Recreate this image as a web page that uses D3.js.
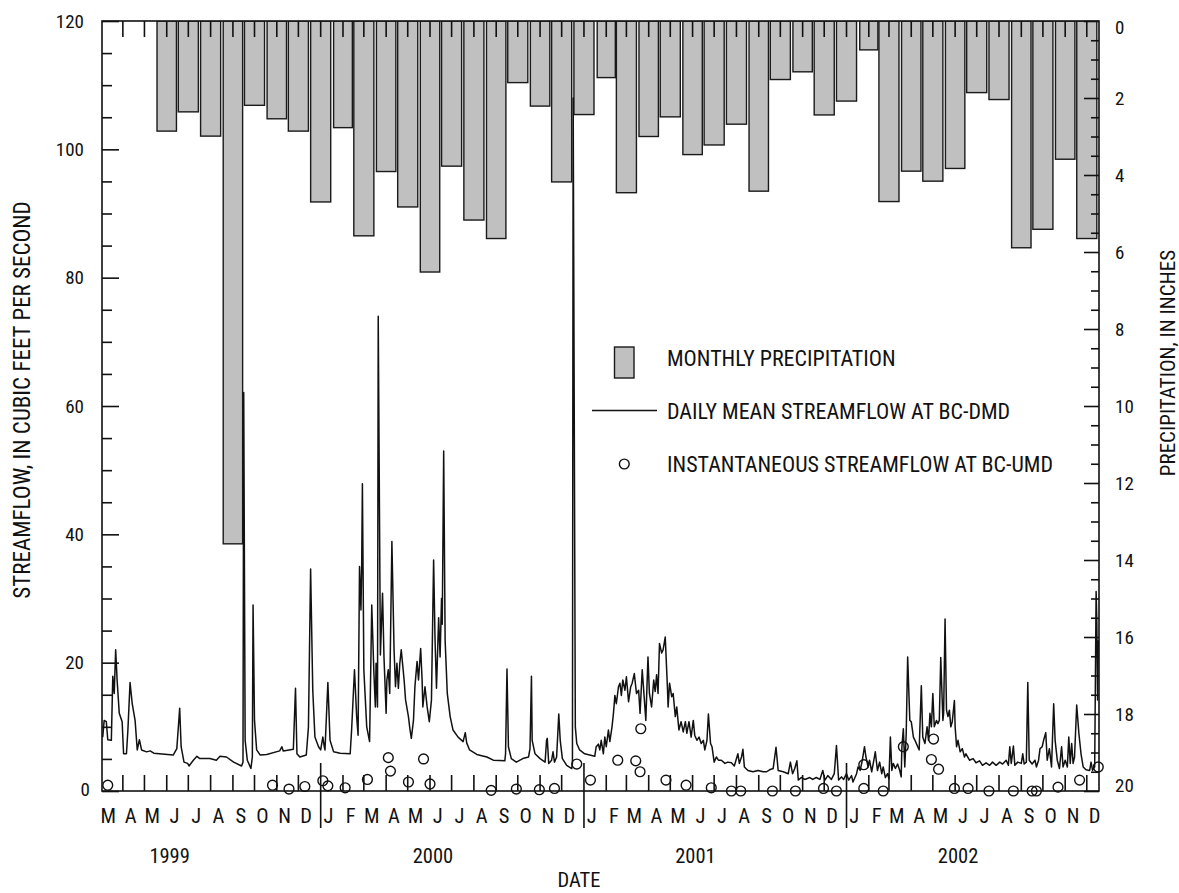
<!DOCTYPE html>
<html>
<head>
<meta charset="utf-8">
<script src="https://cdn.jsdelivr.net/npm/d3@7"></script>
<style>
  html, body { margin: 0; padding: 0; background: #fff; }
  svg text { font-family: "Liberation Sans Narrow", "Arial Narrow", "Roboto Condensed", sans-serif; fill: #111; }
</style>
</head>
<body>
<svg id="chart" width="1179" height="893"></svg>
<script>
// Monthly precipitation, inches (bars are centred on the first day of each month)
const precipMonths = [
  "1999-06","1999-07","1999-08","1999-09","1999-10","1999-11","1999-12",
  "2000-01","2000-02","2000-03","2000-04","2000-05","2000-06","2000-07","2000-08","2000-09","2000-10","2000-11","2000-12",
  "2001-01","2001-02","2001-03","2001-04","2001-05","2001-06","2001-07","2001-08","2001-09","2001-10","2001-11","2001-12",
  "2002-01","2002-02","2002-03","2002-04","2002-05","2002-06","2002-07","2002-08","2002-09","2002-10","2002-11","2002-12"
];
const precipInches = [
  2.86, 2.36, 2.99, 13.58, 2.19, 2.54, 2.86,
  4.70, 2.77, 5.58, 3.91, 4.83, 6.52, 3.77, 5.17, 5.65, 1.60, 2.21, 4.18,
  2.43, 1.47, 4.46, 3.00, 2.49, 3.47, 3.22, 2.68, 4.42, 1.52, 1.32, 2.44,
  2.08, 0.75, 4.69, 3.90, 4.16, 3.83, 1.86, 2.04, 5.89, 5.41, 3.59, 5.65
];

// Daily mean streamflow at BC-DMD (day number counted from 1 March 1999, cubic feet per second)
const flowDay = [
  3,5,8,10,15,17,19,21,23,26,30,32,36,38,41,44,48,51,54,57,64,69,74,101,106,110,112,116,121,123,
  129,134,138,152,161,166,175,185,196,198,199,201,204,209,211,212,214,217,222,231,249,252,254,268,
  271,273,277,286,289,292,295,298,303,306,309,311,312,316,319,324,333,347,349,353,356,358,360,362,
  363,364,366,370,374,377,380,382,383,385,386,389,392,394,397,398,400,402,405,408,410,412,414,416,
  418,422,424,428,430,432,435,437,440,442,445,447,448,451,454,457,460,
  463,465,467,470,472,474,475,477,479,482,486,490,497,504,507,509,513,523,537,546,562,563,565,567,
  571,578,587,595,597,599,600,604,611,618,620,621,623,627,629,631,634,637,639,642,648,655,656,657,
  660,662,666,673,680,687,689,692,694,696,699,701,703,706,708,711,713,715,717,720,722,724,726,729,
  731,734,737,739,742,745,748,750,753,756,758,761,763,766,769,771,773,775,777,780,782,785,788,789,
  791,794,796,799,801,804,807,810,813,815,818,821,824,826,829,832,835,838,840,843,845,848,850,853,
  856,859,863,868,872,877,881,886,888,891,893,895,900,907,914,921,
  926,930,935,939,942,949,956,959,962,965,968,970,974,979,986,990,995,1000,1004,1007,1011,1016,1020,
  1023,1026,1030,1033,1037,1040,1044,1046,1051,1053,1056,1059,1062,1064,1067,1069,1072,1075,1077,
  1080,1083,1086,1088,1091,1094,1096,1098,1100,1102,1105,1108,1111,1113,1114,1116,1118,1120,1122,
  1125,1127,1130,1133,1136,1138,1141,1143,1146,1149,1151,1153,1155,1157,1159,1162,1164,1166,1168,
  1171,1172,1174,1176,1178,1180,1182,1184,1187,1188,1190,1192,1195,1198,1201,1203,1208,1213,1217,
  1222,1226,1231,1236,1240,1245,1250,1254,1259,1262,1264,1266,1269,1271,1275,1280,1282,1284,1287,
  1289,1291,1295,1299,1301,1304,1306,1309,1311,1314,1316,1319,1322,1325,1327,1330,1333,1336,1338,
  1341,1344,1346,1348,1350,1352,1354,1357,1360,1363,1366,1370,1375,1377,1379,1382,1384,1385,1386,1387
];
const flowCfs = [
  8.4,11.0,10.8,8.0,7.9,17.9,15.2,22.0,17.3,12.1,10.8,5.8,5.8,9.5,16.9,13.6,11.0,6.4,8.0,6.4,6.1,6.25,5.9,5.6,6.6,12.9,6.9,4.5,4.3,3.9,
  4.8,5.4,5.05,5.05,4.8,5.4,5.3,4.5,3.9,4.5,62.1,7.9,4.8,3.5,5.3,29.0,11.0,6.4,5.6,5.7,6.25,6.9,6.25,6.5,
  16.0,5.8,5.3,5.6,10.0,34.6,15.7,8.4,6.9,6.4,8.4,6.9,6.4,16.9,7.9,6.1,5.9,5.8,9.5,18.9,11.6,8.7,35.0,28.2,
  35.0,47.9,18.9,10.0,7.7,29.0,18.3,13.1,19.9,13.1,74.0,21.2,30.8,20.9,12.1,17.3,18.9,15.2,38.9,22.0,16.25,19.9,16.0,19.9,
  22.0,17.3,14.2,11.6,9.7,8.2,11.0,16.25,20.2,17.3,22.2,17.3,13.1,16.25,13.1,10.8,14.2,
  36.0,23.5,16.0,27.0,20.9,30.0,26.0,53.0,23.5,15.2,11.6,9.5,8.4,7.7,9.1,7.5,6.4,5.7,5.3,4.8,4.7,5.8,19.0,6.9,
  5.05,4.5,5.05,5.3,6.6,17.9,7.9,5.8,5.05,4.5,7.9,8.2,4.3,4.8,6.1,4.5,5.3,12.0,7.9,5.05,4.0,3.5,4.3,108.0,
  10.0,7.4,6.4,5.8,5.6,5.4,6.9,7.3,6.4,7.9,5.8,8.4,6.9,9.5,7.7,10.0,12.1,14.9,13.6,16.25,16.8,14.9,17.3,15.7,
  17.8,13.9,16.25,16.8,18.3,15.2,15.7,12.1,18.9,14.2,11.0,20.9,15.2,13.1,17.3,15.5,18.1,15.2,23.0,21.5,22.0,24.0,16.25,13.1,
  16.8,14.7,15.2,11.6,13.1,9.5,10.8,9.2,10.8,9.0,10.8,8.4,11.0,8.7,7.9,8.4,7.4,7.9,6.4,7.9,12.0,7.4,6.9,4.5,
  5.3,4.8,4.8,4.3,4.5,4.4,3.9,5.8,4.3,5.3,6.5,3.75,3.2,3.0,3.2,3.0,
  3.0,3.3,3.5,6.8,3.2,3.0,2.7,4.5,2.7,3.5,4.7,1.7,2.1,1.8,2.1,1.8,2.1,1.8,3.2,1.7,2.4,1.8,2.7,
  7.1,1.7,2.2,1.8,2.7,1.7,2.4,1.4,2.7,3.75,3.2,4.8,6.9,5.3,3.75,4.8,3.0,4.8,6.1,
  3.2,4.5,2.7,3.75,2.1,2.7,1.9,8.4,3.2,4.3,3.5,4.2,3.2,2.2,6.9,9.7,3.75,9.0,20.9,
  11.0,10.8,8.4,7.7,6.9,6.4,16.4,8.4,7.4,10.0,7.9,12.1,10.0,15.2,10.0,11.0,10.5,11.0,20.8,
  11.0,12.1,26.8,12.6,11.6,12.6,10.0,10.8,14.1,10.0,6.9,7.9,6.1,6.6,5.3,5.8,4.8,5.05,4.4,
  4.7,4.0,4.4,4.0,4.5,4.0,4.5,4.2,4.8,4.0,6.9,4.3,7.0,4.0,4.5,4.3,5.8,4.2,4.5,
  16.9,4.8,4.2,4.8,3.75,4.8,6.6,6.9,7.9,9.1,4.8,6.6,3.75,13.6,7.9,4.8,3.5,6.9,3.75,
  4.8,3.75,8.4,4.3,7.4,4.3,5.3,13.4,9.0,5.8,3.75,3.3,3.2,4.5,3.2,3.75,31.1,26.1,14.2,23.5
];

// Instantaneous streamflow measurements at BC-UMD
const gaugingDay = [
  10,239,262,284,309,316,340,371,400,403,428,449,458,543,578,610,631,662,681,719,744,750,751,786,
  814,849,877,890,934,966,1005,1023,1061,1061,1088,1116,1155,1158,1165,1187,1206,1235,1269,1295,1301,1331,1361,1387
];
const gaugingCfs = [
  0.9,0.9,0.3,0.7,1.6,0.8,0.5,1.8,5.2,3.1,1.4,5.0,1.1,0.1,0.3,0.2,0.4,4.2,1.7,4.8,4.7,3.0,9.7,1.7,
  0.9,0.5,0.0,0.0,0.0,0.0,0.4,0.0,0.4,4.1,0.0,6.9,4.9,8.1,3.4,0.4,0.4,0.0,0.0,0.0,0.0,0.6,1.7,3.75
];

// Axis labels
const monthLetters = ["J","F","M","A","M","J","J","A","S","O","N","D"];
const yearLabels = [1999, 2000, 2001, 2002];
const flowTicks = [0, 20, 40, 60, 80, 100, 120];
const precipTicks = [0, 2, 4, 6, 8, 10, 12, 14, 16, 18, 20];
const legendLabels = [
  "MONTHLY PRECIPITATION",
  "DAILY MEAN STREAMFLOW AT BC-DMD",
  "INSTANTANEOUS STREAMFLOW AT BC-UMD"
];

const recordStart = new Date(Date.UTC(1999, 2, 1));
const dayDate = n => d3.utcDay.offset(recordStart, n);

const L = 102, R = 1099, T = 21, B = 791;
const svg = d3.select("#chart");
const ink = "#111";

const x = d3.scaleUtc()
  .domain([new Date(Date.UTC(1999, 2, 3)), new Date(Date.UTC(2002, 11, 18))])
  .range([L, R]);
const yFlow = d3.scaleLinear().domain([0, 120]).range([B, T]);
const yPrecip = d3.scaleLinear().domain([0, 20]).range([T, B]);

svg.append("clipPath").attr("id", "plot-clip")
  .append("rect").attr("x", L).attr("y", T).attr("width", R - L).attr("height", B - T);

// Precipitation bars hanging from the top edge
const bars = precipMonths.map((m, i) => {
  const [yy, mm] = m.split("-").map(Number);
  const start = new Date(Date.UTC(yy, mm - 1, 1));
  return { start, next: d3.utcMonth.offset(start, 1), value: precipInches[i] };
});
svg.append("g").attr("clip-path", "url(#plot-clip)")
  .selectAll("rect").data(bars).join("rect")
  .attr("x", d => x(d.start) - 0.45 * (x(d.next) - x(d.start)))
  .attr("width", d => 0.9 * (x(d.next) - x(d.start)))
  .attr("y", yPrecip(0))
  .attr("height", d => yPrecip(d.value) - yPrecip(0))
  .attr("fill", "#c0c0c0")
  .attr("stroke", "#1a1a1a")
  .attr("stroke-width", 1.4);

// Daily mean streamflow
const flow = flowDay.map((d, i) => ({ date: dayDate(d), v: flowCfs[i] }));
svg.append("path")
  .attr("clip-path", "url(#plot-clip)")
  .datum(flow)
  .attr("fill", "none")
  .attr("stroke", ink)
  .attr("stroke-width", 1.5)
  .attr("stroke-linejoin", "round")
  .attr("d", d3.line().x(d => x(d.date)).y(d => yFlow(d.v)));

// Frame
svg.append("rect").attr("x", L).attr("y", T).attr("width", R - L).attr("height", B - T)
  .attr("fill", "none").attr("stroke", ink).attr("stroke-width", 1.6);

// Left axis (streamflow), ticks inward
const leftAxis = d3.axisRight(yFlow).tickValues(d3.range(0, 121, 5)).tickSize(10).tickFormat("");
const gl = svg.append("g").attr("transform", `translate(${L},0)`).call(leftAxis);
gl.selectAll(".tick line").attr("x2", d => d % 20 === 0 ? 17 : 10);
svg.append("g").selectAll("text").data(flowTicks).join("text")
  .attr("x", d => d === 0 ? 90 : 84)
  .attr("y", d => yFlow(d) + (d === 0 ? -2 : 0))
  .attr("dy", "0.35em")
  .attr("text-anchor", "end")
  .attr("font-size", 19)
  .text(d => d);

// Right axis (precipitation), ticks inward
const rightAxis = d3.axisLeft(yPrecip).tickValues(d3.range(0, 20.01, 0.5)).tickSize(8).tickFormat("");
const gr = svg.append("g").attr("transform", `translate(${R},0)`).call(rightAxis);
gr.selectAll(".tick line").attr("x2", d => Math.abs(d % 2) < 1e-9 ? -15 : -8);
svg.append("g").selectAll("text").data(precipTicks).join("text")
  .attr("x", 1115)
  .attr("y", d => yPrecip(d) + (d === 0 ? 6 : d === 20 ? -6 : 0))
  .attr("dy", "0.35em")
  .attr("font-size", 19)
  .text(d => d);

[gl, gr].forEach(g => {
  g.select(".domain").remove();
  g.selectAll(".tick line").attr("stroke", ink).attr("stroke-width", 1.6);
});

// Month ticks along the bottom and top edges
const monthStarts = d3.utcMonth.range(new Date(Date.UTC(1999, 3, 1)), new Date(Date.UTC(2002, 11, 2)));
const tickG = svg.append("g").attr("stroke", ink).attr("stroke-width", 1.6);
tickG.selectAll("line.bottom").data(monthStarts).join("line")
  .attr("class", "bottom")
  .attr("x1", d => x(d)).attr("x2", d => x(d))
  .attr("y1", d => d.getUTCMonth() === 0 ? B - 28 : B - 16)
  .attr("y2", d => d.getUTCMonth() === 0 ? B + 37 : B);
tickG.selectAll("line.top").data(monthStarts).join("line")
  .attr("class", "top")
  .attr("x1", d => x(d)).attr("x2", d => x(d))
  .attr("y1", T).attr("y2", T + 16);

// Month letters
const months = d3.utcMonth.range(new Date(Date.UTC(1999, 2, 1)), new Date(Date.UTC(2002, 11, 2)));
svg.append("g").selectAll("text").data(months).join("text")
  .attr("x", d => x(d3.utcDay.offset(d, 15)) - 3)
  .attr("y", 823)
  .attr("text-anchor", "middle")
  .attr("font-size", 20.5)
  .text(d => monthLetters[d.getUTCMonth()]);

// Year labels
svg.append("g").selectAll("text").data(yearLabels).join("text")
  .attr("x", d => x(new Date(Date.UTC(d, 5, 5))))
  .attr("y", 863)
  .attr("text-anchor", "middle")
  .attr("font-size", 20.5)
  .text(d => d);

svg.append("text").attr("x", 579).attr("y", 887).attr("text-anchor", "middle")
  .attr("font-size", 20.5).text("DATE");

// Axis titles
svg.append("text").attr("transform", "translate(30,400) rotate(-90)")
  .attr("text-anchor", "middle").attr("font-size", 23)
  .text("STREAMFLOW, IN CUBIC FEET PER SECOND");
svg.append("text").attr("transform", "translate(1175,363) rotate(-90)")
  .attr("text-anchor", "middle").attr("font-size", 21)
  .text("PRECIPITATION, IN INCHES");

// Instantaneous measurements
svg.append("g").selectAll("circle")
  .data(gaugingDay.map((d, i) => ({ date: dayDate(d), v: gaugingCfs[i] })))
  .join("circle")
  .attr("cx", d => x(d.date))
  .attr("cy", d => yFlow(d.v))
  .attr("r", 4.9)
  .attr("fill", "none")
  .attr("stroke", ink)
  .attr("stroke-width", 1.4);

// Legend
const lg = svg.append("g");
lg.append("rect").attr("x", 614.5).attr("y", 347).attr("width", 19.5).attr("height", 31)
  .attr("fill", "#c0c0c0").attr("stroke", "#1a1a1a").attr("stroke-width", 1.4);
lg.append("line").attr("x1", 592).attr("x2", 657).attr("y1", 410.5).attr("y2", 410.5)
  .attr("stroke", ink).attr("stroke-width", 1.4);
lg.append("circle").attr("cx", 624.3).attr("cy", 464).attr("r", 4.9)
  .attr("fill", "none").attr("stroke", ink).attr("stroke-width", 1.4);
lg.selectAll("text").data(legendLabels).join("text")
  .attr("x", 667)
  .attr("y", (d, i) => [366, 419, 472][i])
  .attr("font-size", 22)
  .text(d => d);
</script>
</body>
</html>
